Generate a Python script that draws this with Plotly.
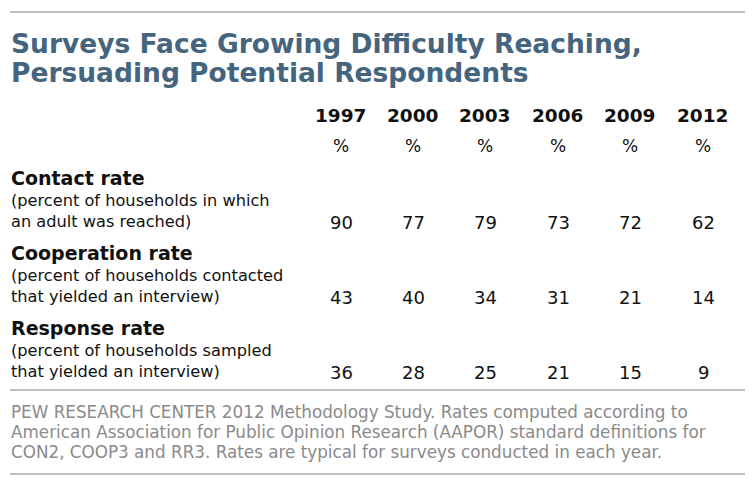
import plotly.graph_objects as go

years = ["1997", "2000", "2003", "2006", "2009", "2012"]
row_titles = ["Contact rate", "Cooperation rate", "Response rate"]
row_notes = [
    ["(percent of households in which", "an adult was reached)"],
    ["(percent of households contacted", "that yielded an interview)"],
    ["(percent of households sampled", "that yielded an interview)"],
]
values = [
    [90, 77, 79, 73, 72, 62],
    [43, 40, 34, 31, 21, 14],
    [36, 28, 25, 21, 15, 9],
]
title_lines = ["Surveys Face Growing Difficulty Reaching,", "Persuading Potential Respondents"]
footer_lines = [
    "PEW RESEARCH CENTER 2012 Methodology Study. Rates computed according to",
    "American Association for Public Opinion Research (AAPOR) standard definitions for",
    "CON2, COOP3 and RR3. Rates are typical for surveys conducted in each year.",
]

col_x = [341, 413, 485, 558, 630, 703]
font = "DejaVu Sans"
ann = []

def add(x, y, text, size, color="#111", bold=False, xanchor="left"):
    ann.append(dict(x=x, y=y, xref="x", yref="y", text=f"<b>{text}</b>" if bold else text,
                    showarrow=False, xanchor=xanchor, yanchor="middle",
                    font=dict(family=font, size=size, color=color)))

for i, t in enumerate(title_lines):
    add(9, 43 + i * 29, t, 26.5, "#45657f", True)
for x, yr in zip(col_x, years):
    add(x, 115, yr, 18.5, bold=True, xanchor="center")
    add(x, 146, "%", 17, xanchor="center")
for r in range(3):
    y0 = 178 + r * 75
    add(9, y0, row_titles[r], 19, bold=True)
    add(9, y0 + 22, row_notes[r][0], 16.2)
    add(9, y0 + 43, row_notes[r][1], 16.2)
    for x, v in zip(col_x, values[r]):
        add(x, y0 + 44, str(v), 18, xanchor="center")
for i, t in enumerate(footer_lines):
    add(9, 412 + i * 20, t, 16.8, "#8a8a8a")

shapes = [dict(type="line", xref="x", yref="y", x0=10, x1=745, y0=y, y1=y,
               line=dict(color="#aaaaaa", width=1.5)) for y in (12, 390, 474)]

fig = go.Figure()
# page body has an 8px margin, so the axes are shifted to keep reference pixel coordinates
fig.update_layout(
    width=755, height=486, margin=dict(l=0, r=0, t=0, b=0),
    paper_bgcolor="white", plot_bgcolor="white",
    xaxis=dict(range=[8, 763], visible=False, fixedrange=True),
    yaxis=dict(range=[494, 8], visible=False, fixedrange=True),
    annotations=ann, shapes=shapes, showlegend=False,
)
fig.write_html("out.html")
